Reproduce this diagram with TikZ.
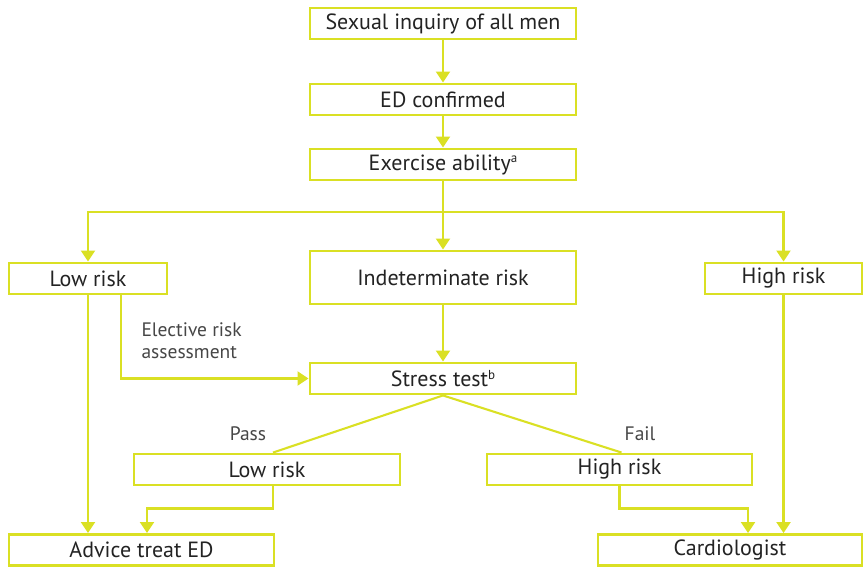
\documentclass[tikz,border=0pt]{standalone}
\usepackage{fontspec}
\setmainfont{PT Sans}
\usetikzlibrary{arrows.meta,calc}
\definecolor{lime}{RGB}{218,224,36}
\definecolor{txt}{RGB}{35,35,35}
\definecolor{lbltxt}{RGB}{70,70,70}
\newcommand{\supmark}[1]{\raisebox{0.7ex}{\fontsize{13}{14}\selectfont #1}}
\begin{document}
\begin{tikzpicture}[x=1pt,y=-1pt,
 box/.style={draw=lime, line width=2.9pt, fill=white, inner sep=0pt, text=txt, font=\fontsize{22}{26}\selectfont, anchor=center},
 conn/.style={draw=lime, line width=2.1pt},
 arr/.style={conn, -{Triangle[length=11pt,width=14pt]}},
 lbl/.style={text=lbltxt, font=\fontsize{19.5}{22}\selectfont}]
\useasboundingbox (0,0) rectangle (864,567);
\node[box, minimum width=266pt, minimum height=31pt] (sex) at (443,23.5) {Sexual inquiry of all men};
\node[box, minimum width=266pt, minimum height=31pt] (edc) at (443,99.5) {ED confirmed};
\node[box, minimum width=266pt, minimum height=31pt] (exa) at (443,164.5) {Exercise ability\supmark{a}};
\node[box, minimum width=158pt, minimum height=31pt] (lowl) at (88,278.5) {Low risk};
\node[box, minimum width=266pt, minimum height=53pt] (ind) at (443,277.5) {Indeterminate risk};
\node[box, minimum width=157pt, minimum height=31pt] (highr) at (783.5,278.5) {High risk};
\node[box, minimum width=266pt, minimum height=31pt] (stress) at (443,378.5) {Stress test\supmark{b}};
\node[box, minimum width=266pt, minimum height=31pt] (plow) at (267,469.5) {Low risk};
\node[box, minimum width=265pt, minimum height=31pt] (phigh) at (619.5,469.5) {High risk};
\node[box, minimum width=265pt, minimum height=31pt] (adv) at (141.5,550) {Advice treat ED};
\node[box, minimum width=264pt, minimum height=31pt] (card) at (730,550) {Cardiologist};
\coordinate (split) at (443,212);
\node[lbl, anchor=west, align=left] (el) at (138,341) {Elective risk\\assessment};
\node[lbl] (pass) at (248,434) {Pass};
\node[lbl] (fail) at (640,434) {Fail};
\draw[arr] (sex) -- (edc);
\draw[arr] (edc) -- (exa);
\draw[arr] (exa) -- (ind);
\draw[arr] (split) -| (lowl);
\draw[arr] (split) -| (highr);
\draw[arr] (ind) -- (stress);
\draw[arr] ([xshift=33pt]lowl.south) |- (stress.west);
\draw[arr] (lowl.south) -- (lowl.south |- adv.north);
\draw[conn] (stress.south) -- ([xshift=6pt]plow.north);
\draw[conn] (stress.south) -- ([xshift=2pt]phigh.north);
\draw[arr] ([xshift=6pt]plow.south) -- ++(0,22) -| ([xshift=5.5pt]adv.north);
\draw[arr] (phigh.south) -- ++(0,22) -| ([xshift=18pt]card.north);
\draw[arr] (highr.south) -- (highr.south |- card.north);
\end{tikzpicture}
\end{document}
